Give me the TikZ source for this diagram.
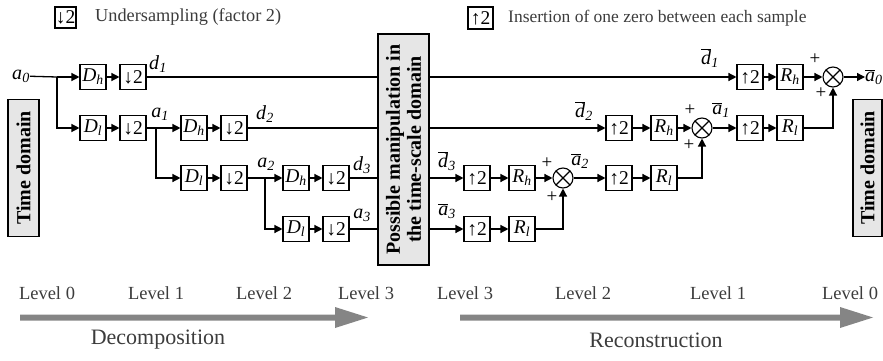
\documentclass[tikz,border=0pt]{standalone}
\usepackage{fontspec}
\setmainfont{Liberation Serif}
\usetikzlibrary{arrows.meta}
\newcommand\sg[2]{\textit{#1}\textsubscript{\textit{#2}}}
\newcommand\bsg[2]{$\overline{\mbox{\textit{#1}}}$\textsubscript{\textit{#2}}}
\definecolor{boxgray}{HTML}{E6E6E6}
\definecolor{arrgray}{HTML}{858585}
\definecolor{txtgray}{HTML}{3C3C3C}
\begin{document}
\begin{tikzpicture}[x=1pt,y=-1pt,
  blk/.style={draw, line width=1.1pt, minimum width=26pt, minimum height=25pt, inner sep=0pt, font=\fontsize{19.5}{19.5}\selectfont},
  sumc/.style={draw, circle, line width=1.1pt, minimum size=20pt, inner sep=0pt,
    path picture={\draw[line width=1.1pt] (path picture bounding box.south west) -- (path picture bounding box.north east)
      (path picture bounding box.north west) -- (path picture bounding box.south east);}},
  wire/.style={line width=1.3pt},
  arr/.style={wire, -{Triangle[length=8pt,width=8pt]}},
  sig/.style={font=\fontsize{20}{20}\selectfont, inner sep=0pt},
  plus/.style={font=\fontsize{19}{19}\selectfont, inner sep=0pt},
  lvl/.style={font=\fontsize{18.5}{18.5}\selectfont, text=txtgray, inner sep=0pt},
  big/.style={font=\fontsize{22}{22}\selectfont, text=txtgray, inner sep=0pt},
  dom/.style={draw, line width=1.1pt, fill=boxgray, inner sep=0pt, font=\fontsize{20}{21}\selectfont\bfseries, align=center}
]
\useasboundingbox (0,0) rectangle (883,361);
\clip (0,0) rectangle (883,361);

% legend
\node[blk, minimum width=21pt, minimum height=21pt] (lg1) at (65.5,17.5) {↓2};
\node[lvl, anchor=west, font=\fontsize{18.3}{18.3}\selectfont] (lg1t) at (95,17.5) {Undersampling (factor 2)};
\node[blk, minimum width=25pt, minimum height=22pt] (lg2) at (480.5,18) {↑2};
\node[lvl, anchor=west, font=\fontsize{17.5}{17.5}\selectfont] (lg2t) at (508,18) {Insertion of one zero between each sample};

% domain boxes
\node[dom, minimum width=137pt, minimum height=31pt, rotate=90] (tdl) at (23.5,168) {Time domain};
\node[dom, minimum width=137pt, minimum height=29pt, rotate=90] (tdr) at (867.5,168) {Time domain};
\node[dom, minimum width=231pt, minimum height=51pt, rotate=90] (C) at (403.5,149.5) {Possible manipulation in\\the time-scale domain};

% decomposition
\node[sig] (a0) at (21,76) {\sg{a}{0}};
\coordinate (j0) at (57,77);
\node[blk] (Dh1) at (93,77) {\sg{D}{h}};
\node[blk] (Dn1) at (133,77) {↓2};
\node[blk] (Dl1) at (93,128) {\sg{D}{l}};
\node[blk] (Dn2) at (133,128) {↓2};
\coordinate (j1) at (156,128);
\node[blk] (Dh2) at (194,128) {\sg{D}{h}};
\node[blk] (Dn3) at (234,128) {↓2};
\node[blk] (Dl2) at (194,178) {\sg{D}{l}};
\node[blk] (Dn4) at (234,178) {↓2};
\coordinate (j2) at (265,178);
\node[blk] (Dh3) at (296,178) {\sg{D}{h}};
\node[blk] (Dn5) at (336,178) {↓2};
\node[blk] (Dl3) at (296,229) {\sg{D}{l}};
\node[blk] (Dn6) at (336,229) {↓2};

\draw[wire] (a0) -- (j0);
\draw[arr] (j0) -- (Dh1);
\draw[arr] (j0) |- (Dl1);
\draw[arr] (Dh1) -- (Dn1);
\draw[wire] (Dn1) -- (C.north |- Dn1);
\draw[arr] (Dl1) -- (Dn2);
\draw[wire] (Dn2) -- (j1);
\draw[arr] (j1) -- (Dh2);
\draw[arr] (j1) |- (Dl2);
\draw[arr] (Dh2) -- (Dn3);
\draw[wire] (Dn3) -- (C.north |- Dn3);
\draw[arr] (Dl2) -- (Dn4);
\draw[wire] (Dn4) -- (j2);
\draw[arr] (j2) -- (Dh3);
\draw[arr] (j2) |- (Dl3);
\draw[arr] (Dh3) -- (Dn5);
\draw[wire] (Dn5) -- (C.north |- Dn5);
\draw[arr] (Dl3) -- (Dn6);
\draw[wire] (Dn6) -- (C.north |- Dn6);

\node[sig] (ld1) at (158,64) {\sg{d}{1}};
\node[sig] (la1) at (160,114) {\sg{a}{1}};
\node[sig] (ld2) at (265,114) {\sg{d}{2}};
\node[sig] (la2) at (266,164) {\sg{a}{2}};
\node[sig] (ld3) at (362,165) {\sg{d}{3}};
\node[sig] (la3) at (362,215) {\sg{a}{3}};

% reconstruction
\node[blk] (Up1) at (750,77) {↑2};
\node[blk] (Rh1) at (790,77) {\sg{R}{h}};
\node[sumc] (S1) at (833,77) {};
\node[sig, anchor=west] (a0b) at (865,77) {\bsg{a}{0}};
\node[blk] (Up2) at (619,128) {↑2};
\node[blk] (Rh2) at (664,128) {\sg{R}{h}};
\node[sumc] (S2) at (702,128) {};
\node[blk] (Up3) at (750,128) {↑2};
\node[blk] (Rl1) at (790,128) {\sg{R}{l}};
\node[blk] (Up4) at (477,178) {↑2};
\node[blk] (Rh3) at (522,178) {\sg{R}{h}};
\node[sumc] (S3) at (563,178) {};
\node[blk] (Up5) at (619,178) {↑2};
\node[blk] (Rl2) at (664,178) {\sg{R}{l}};
\node[blk] (Up6) at (477,229) {↑2};
\node[blk] (Rl3) at (522,229) {\sg{R}{l}};

\draw[arr] (C.south |- Up1) -- (Up1);
\draw[arr] (Up1) -- (Rh1);
\draw[arr] (Rh1) -- (S1);
\draw[arr] (S1) -- (a0b);
\draw[arr] (C.south |- Up2) -- (Up2);
\draw[arr] (Up2) -- (Rh2);
\draw[arr] (Rh2) -- (S2);
\draw[arr] (S2) -- (Up3);
\draw[arr] (Up3) -- (Rl1);
\draw[arr] (Rl1) -| (S1);
\draw[arr] (C.south |- Up4) -- (Up4);
\draw[arr] (Up4) -- (Rh3);
\draw[arr] (Rh3) -- (S3);
\draw[arr] (S3) -- (Up5);
\draw[arr] (Up5) -- (Rl2);
\draw[arr] (Rl2) -| (S2);
\draw[arr] (C.south |- Up6) -- (Up6);
\draw[arr] (Up6) -- (Rl3);
\draw[arr] (Rl3) -| (S3);

\node[sig] (lbd1) at (710,58) {\bsg{d}{1}};
\node[sig] (lbd2) at (584,111) {\bsg{d}{2}};
\node[sig] (lba1) at (721,110) {\bsg{a}{1}};
\node[sig] (lbd3) at (447,161) {\bsg{d}{3}};
\node[sig] (lba2) at (580,161) {\bsg{a}{2}};
\node[sig] (lba3) at (447,211) {\bsg{a}{3}};

\node[plus] (p1a) at (815,59) {+};
\node[plus] (p1b) at (821,93) {+};
\node[plus] (p2a) at (690,110) {+};
\node[plus] (p2b) at (689,145) {+};
\node[plus] (p3a) at (547,163) {+};
\node[plus] (p3b) at (552,197) {+};

% levels
\node[lvl] (L0a) at (47,293) {Level 0};
\node[lvl] (L1a) at (156,293) {Level 1};
\node[lvl] (L2a) at (264,293) {Level 2};
\node[lvl] (L3a) at (366,293) {Level 3};
\node[lvl] (L3b) at (465,293) {Level 3};
\node[lvl] (L2b) at (583,293) {Level 2};
\node[lvl] (L1b) at (718,293) {Level 1};
\node[lvl] (L0b) at (850,293) {Level 0};

\fill[arrgray] (20,314.5) -- (335,314.5) -- (335,307) -- (368,317.5) -- (335,328) -- (335,320.5) -- (20,320.5) -- cycle;
\fill[arrgray] (460,314.5) -- (840,314.5) -- (840,307) -- (873,317.5) -- (840,328) -- (840,320.5) -- (460,320.5) -- cycle;

\node[big] (dec) at (158,340) {Decomposition};
\node[big] (rec) at (656,340) {Reconstruction};
\end{tikzpicture}
\end{document}
